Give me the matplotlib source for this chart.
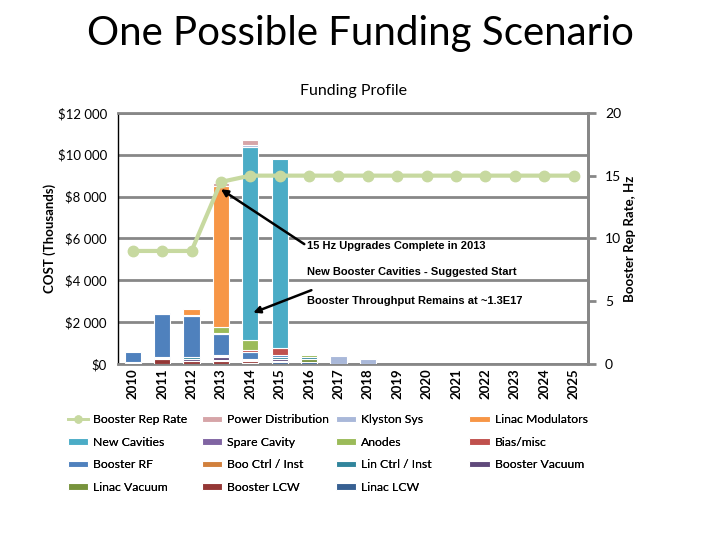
import numpy as np
import matplotlib
matplotlib.use("Agg")
import matplotlib.pyplot as plt
from matplotlib.ticker import FuncFormatter
from matplotlib.lines import Line2D

plt.rcParams["font.family"] = ["Lato", "DejaVu Sans"]

# years on the x axis
years = [str(y) for y in range(2010, 2026)]

# costs in $K, per year 2010..2025 (stack order bottom -> top)
linac_lcw      = [0,   0,   0,   0,    60,   80,  100, 0,   0,   0, 0, 0, 0, 0, 0, 0]
booster_lcw    = [60,  220, 150, 150,  60,   80,  0,   0,   0,   0, 0, 0, 0, 0, 0, 0]
linac_vacuum   = [0,   0,   0,   60,   0,    0,   150, 0,   0,   0, 0, 0, 0, 0, 0, 0]
booster_vacuum = [50,  60,  80,  100,  60,   80,  0,   0,   0,   0, 0, 0, 0, 0, 0, 0]
lin_ctrl       = [0,   60,  100, 80,   60,   80,  100, 0,   0,   0, 0, 0, 0, 0, 0, 0]
boo_ctrl       = [0,   0,   0,   60,   0,    0,   0,   0,   0,   0, 0, 0, 0, 0, 0, 0]
booster_rf     = [480, 2050, 1950, 960, 340,  100, 0,   0,   0,   0, 0, 0, 0, 0, 0, 0]
bias_misc      = [0,   0,   0,   80,   100,  330, 0,   0,   0,   0, 0, 0, 0, 0, 0, 0]
anodes         = [0,   0,   0,   300,  470,  0,   80,  0,   0,   0, 0, 0, 0, 0, 0, 0]
spare_cavity   = [0,   60,  0,   0,    0,    0,   0,   0,   0,   0, 0, 0, 0, 0, 0, 0]
new_cavities   = [0,   0,   80,  0,    9200, 9030, 0,  0,   0,   0, 0, 0, 0, 0, 0, 0]
linac_mods     = [0,   0,   250, 6700, 0,    0,   0,   0,   0,   0, 0, 0, 0, 0, 0, 0]
klystron_sys   = [0,   0,   0,   0,    100,  0,   0,   380, 230, 0, 0, 0, 0, 0, 0, 0]
power_dist     = [0,   0,   0,   150,  250,  0,   0,   0,   0,   0, 0, 0, 0, 0, 0, 0]

# booster rep rate, Hz
rep_rate = [9, 9, 9, 14.5, 15, 15, 15, 15, 15, 15, 15, 15, 15, 15, 15, 15]

series = [
    ("Linac LCW", linac_lcw, "#376092"),
    ("Booster LCW", booster_lcw, "#953735"),
    ("Linac Vacuum", linac_vacuum, "#77933C"),
    ("Booster Vacuum", booster_vacuum, "#604A7B"),
    ("Lin Ctrl / Inst", lin_ctrl, "#31859C"),
    ("Boo Ctrl / Inst", boo_ctrl, "#D1803C"),
    ("Booster RF", booster_rf, "#4F81BD"),
    ("Bias/misc", bias_misc, "#C0504D"),
    ("Anodes", anodes, "#9BBB59"),
    ("Spare Cavity", spare_cavity, "#8064A2"),
    ("New Cavities", new_cavities, "#4BACC6"),
    ("Linac Modulators", linac_mods, "#F79646"),
    ("Klyston Sys", klystron_sys, "#A9B8D9"),
    ("Power Distribution", power_dist, "#D6A5A8"),
]

fig = plt.figure(figsize=(7.2, 5.4), dpi=100)
ax = fig.add_axes([0.164, 0.326, 0.653, 0.465])

x = np.arange(len(years))
bottom = np.zeros(len(years))
bars = {}
for name, vals, col in series:
    vals = np.array(vals, dtype=float)
    nz = vals > 0
    bars[name] = ax.bar(x[nz], vals[nz], 0.55, bottom=bottom[nz], color=col,
                        edgecolor="white", linewidth=0.8, label=name, zorder=3)
    bottom += vals

grid_c = "#878787"
line_c = "#C7D9A0"
ax.set_ylim(0, 12000)
ax.set_xlim(-0.5, len(years) - 0.5)
ax.set_yticks(np.arange(0, 12001, 2000))
ax.yaxis.set_major_formatter(FuncFormatter(lambda v, p: "$" + format(int(v), ",").replace(",", " ")))
ax.grid(axis="y", color=grid_c, linewidth=2, zorder=0)
ax.tick_params(axis="y", length=0, labelsize=9.5, pad=8)
ax.set_xticks(x)
ax.set_xticklabels(years, rotation=90, fontsize=9.5, fontweight="bold")
ax.tick_params(axis="x", length=0, pad=3)
ax.spines["left"].set_color("black")
ax.spines["left"].set_linewidth(1)
for s in ["bottom", "right", "top"]:
    ax.spines[s].set_color(grid_c)
    ax.spines[s].set_linewidth(2)
ax.set_ylabel("COST (Thousands)", fontsize=9.5, fontweight="bold", labelpad=1)
ax.set_title("Funding Profile", fontsize=11.5, pad=13)

ax2 = ax.twinx()
ax2.plot(x, rep_rate, color=line_c, linewidth=3, marker="o",
         markersize=7.5, zorder=5)
ax2.set_ylim(0, 20)
ax2.set_yticks([0, 5, 10, 15, 20])
ax2.tick_params(axis="y", length=6, width=2, color=grid_c, labelsize=10, pad=6)
for s in ["bottom", "left", "top"]:
    ax2.spines[s].set_visible(False)
ax2.spines["right"].set_color(grid_c)
ax2.spines["right"].set_linewidth(2)
ax2.set_ylabel("Booster Rep Rate, Hz", fontsize=9.5, fontweight="bold", labelpad=2)

# annotations
afont = dict(fontsize=8, fontweight="bold", family="Liberation Sans")
ax.annotate("15 Hz Upgrades Complete in 2013", xy=(3.0, 8350), xycoords="data",
            xytext=(0.402, 0.47), textcoords="axes fraction", va="center", ha="left",
            arrowprops=dict(arrowstyle="-|>", color="black", lw=1.8, mutation_scale=10,
                            shrinkA=0, shrinkB=0, relpos=(0, 0.5)), zorder=10, **afont)
ax.text(0.402, 0.367, "New Booster Cavities - Suggested Start", transform=ax.transAxes,
        va="center", ha="left", zorder=10, **afont)
ax.annotate("Booster Throughput Remains at ~1.3E17", xy=(4.1, 2450), xycoords="data",
            xytext=(0.402, 0.25), textcoords="axes fraction", va="center", ha="left",
            arrowprops=dict(arrowstyle="-|>", color="black", lw=1.8, mutation_scale=10,
                            shrinkA=0, shrinkB=0, relpos=(0.02, 1.6)), zorder=10, **afont)

fig.text(0.5, 0.938, "One Possible Funding Scenario", ha="center", va="center",
         fontsize=29)

# legend, row-major as in the original, one legend per column
order = ["Booster Rep Rate", "Power Distribution", "Klyston Sys", "Linac Modulators",
         "New Cavities", "Spare Cavity", "Anodes", "Bias/misc",
         "Booster RF", "Boo Ctrl / Inst", "Lin Ctrl / Inst", "Booster Vacuum",
         "Linac Vacuum", "Booster LCW", "Linac LCW"]
handles = {"Booster Rep Rate": Line2D([], [], color=line_c, lw=2, marker="o", markersize=5)}
handles.update(bars)
ncol = 4
col_x = [0.094, 0.280, 0.466, 0.652]
for i in range(ncol):
    names = order[i::ncol]
    leg = fig.legend([handles[n] for n in names], names, loc="upper left",
                     bbox_to_anchor=(col_x[i], 0.233), frameon=False, fontsize=8.8,
                     handlelength=1.7, handleheight=0.45, labelspacing=0.95,
                     handletextpad=0.4, borderpad=0, borderaxespad=0)
    fig.add_artist(leg)

fig.savefig("out.png", dpi=100)
